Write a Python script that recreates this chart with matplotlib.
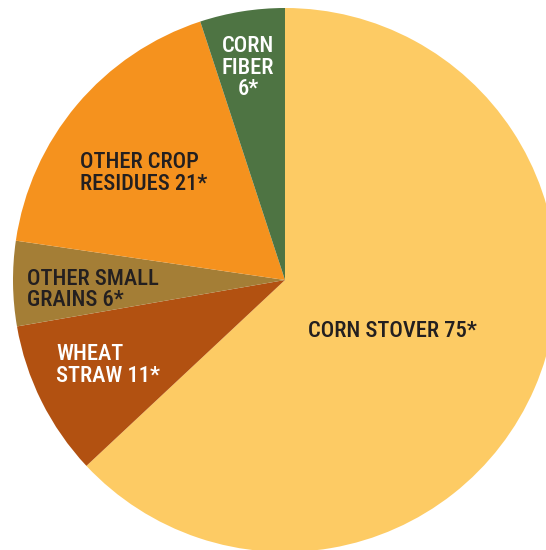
import matplotlib
matplotlib.use("Agg")
import matplotlib.pyplot as plt

# Data
categories = ["CORN STOVER", "WHEAT STRAW", "OTHER SMALL GRAINS", "OTHER CROP RESIDUES", "CORN FIBER"]
values = [75, 11, 6, 21, 6]
colors = ["#FDCB64", "#B25111", "#A47E36", "#F5921E", "#4E7443"]
label_lines = [
    ["CORN STOVER 75*"],
    ["WHEAT", "STRAW 11*"],
    ["OTHER SMALL", "GRAINS 6*"],
    ["OTHER CROP", "RESIDUES 21*"],
    ["CORN", "FIBER", "6*"],
]
label_colors = ["#231F20", "white", "#231F20", "#231F20", "white"]

W, H = 546, 550
fig = plt.figure(figsize=(W / 100, H / 100), dpi=100)
ax = fig.add_axes([0, 0, 1, 1])

cx, cy, r = 285, H - 280, 272
ax.pie(values, colors=colors, startangle=90, counterclock=False,
       center=(cx, cy), radius=r, frame=True,
       wedgeprops=dict(linewidth=0))
ax.set_xlim(0, W)
ax.set_ylim(0, H)
ax.set_aspect("equal")
ax.axis("off")

# layout: (x, first baseline y in pixels from top, alignment)
positions = [
    (308, 337, "left"),
    (56, 360, "left"),
    (27, 285, "left"),
    (80, 168, "left"),
    (248, 52, "center"),
]
step = 21.5
font = dict(family=["Roboto Condensed", "DejaVu Sans"], stretch="condensed", weight=500, size=16.2)
for lines, col, (x, y0, ha) in zip(label_lines, label_colors, positions):
    for i, line in enumerate(lines):
        ax.text(x, H - (y0 + i * step), line, color=col, ha=ha, va="baseline", **font)

fig.savefig("out.png", dpi=100)
